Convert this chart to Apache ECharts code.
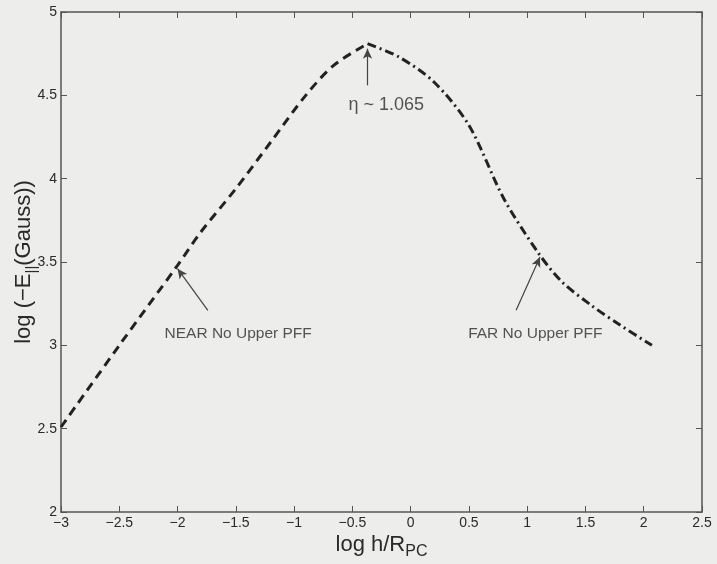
<!DOCTYPE html>
<html>
<head>
<meta charset="utf-8">
<script src="https://cdn.jsdelivr.net/npm/echarts@6/dist/echarts.min.js"></script>
<style>
html,body{margin:0;padding:0;background:#ededeb;}
#c{width:717px;height:564px;}
</style>
</head>
<body>
<div id="c"></div>
<script>
// Data
var nearX = [-3.0, -2.5, -2.0, -1.8, -1.5, -1.2, -0.9, -0.66, -0.37];
var nearY = [2.51, 3.00, 3.48, 3.68, 3.94, 4.22, 4.50, 4.68, 4.81];
var farX = [-0.37, -0.1, 0.2, 0.5, 0.8, 1.1, 1.3, 1.55, 1.8, 2.07];
var farY = [4.81, 4.73, 4.58, 4.32, 3.88, 3.55, 3.38, 3.24, 3.12, 3.0];
var xTicks = [-3, -2.5, -2, -1.5, -1, -0.5, 0, 0.5, 1, 1.5, 2, 2.5];
var yTicks = [2, 2.5, 3, 3.5, 4, 4.5, 5];
// annotations: [label, arrowTailX, arrowTailY, arrowTipX, arrowTipY, labelX, labelY, fontSize]
var notes = [
  ['\u03b7 ~ 1.065', -0.37, 4.56, -0.37, 4.78, -0.21, 4.44, 18],
  ['NEAR No Upper PFF', -1.74, 3.21, -2.0, 3.46, -1.48, 3.07, 15.5],
  ['FAR No Upper PFF', 0.905, 3.21, 1.11, 3.53, 1.07, 3.07, 15.5]
];

function pairs(xs, ys){ return xs.map(function(x,i){return [x, ys[i]];}); }
var fmt = function(v){ var s = String(v); return s.replace('-', '\u2212'); };
var axisCol = '#555';
var txtCol = '#2a2a2a';
var font = 'Liberation Sans, Arial, sans-serif';

var chart = echarts.init(document.getElementById('c'));
chart.setOption({
  backgroundColor: '#ededeb',
  animation: false,
  grid: {left: 61, right: 15, top: 12, bottom: 52, containLabel: false, outerBoundsMode: 'none'},
  xAxis: [{
    type: 'value', min: -3, max: 2.5, interval: 0.5,
    axisLine: {onZero: false, lineStyle: {color: axisCol, width: 1.5}},
    axisTick: {inside: true, length: 6, lineStyle: {color: axisCol}},
    axisLabel: {color: txtCol, fontSize: 14, fontFamily: font, margin: 4, formatter: fmt},
    splitLine: {show: false},
    name: '{a|log h/R}{s|PC}',
    nameLocation: 'middle', nameGap: 22, nameMoveOverlap: false,
    nameTextStyle: {
      rich: {
        a: {fontSize: 22, color: txtCol, fontFamily: font, verticalAlign: 'top', lineHeight: 24},
        s: {fontSize: 16, color: txtCol, fontFamily: font, verticalAlign: 'top', padding: [10, 0, 0, 0], lineHeight: 24}
      }
    }
  }, {
    type: 'value', min: -3, max: 2.5, interval: 0.5, position: 'top',
    axisLine: {show: true, onZero: false, lineStyle: {color: axisCol, width: 1.5}},
    axisTick: {inside: true, length: 6, lineStyle: {color: axisCol}},
    axisLabel: {show: false}, splitLine: {show: false}
  }],
  yAxis: [{
    type: 'value', min: 2, max: 5, interval: 0.5,
    axisLine: {show: true, onZero: false, lineStyle: {color: axisCol, width: 1.5}},
    axisTick: {inside: true, length: 6, lineStyle: {color: axisCol}},
    axisLabel: {color: txtCol, fontSize: 14, fontFamily: font, margin: 4},
    splitLine: {show: false},
    name: '{a|log (\u2212E}{s|||}{a|(Gauss))}',
    nameLocation: 'middle', nameGap: 24, nameRotate: 90, nameMoveOverlap: false,
    nameTextStyle: {
      rich: {
        a: {fontSize: 22, color: txtCol, fontFamily: font, verticalAlign: 'top', lineHeight: 24},
        s: {fontSize: 15, color: txtCol, fontFamily: font, verticalAlign: 'top', padding: [11, 0, 0, 0], lineHeight: 24}
      }
    }
  }, {
    type: 'value', min: 2, max: 5, interval: 0.5, position: 'right',
    axisLine: {show: true, onZero: false, lineStyle: {color: axisCol, width: 1.5}},
    axisTick: {inside: true, length: 6, lineStyle: {color: axisCol}},
    axisLabel: {show: false}, splitLine: {show: false}
  }],
  series: [{
    type: 'line', data: pairs(nearX, nearY), smooth: 0.3, symbol: 'none',
    lineStyle: {color: '#222', width: 3, type: [9, 6]},
    markLine: {
      silent: true, symbol: ['none', 'arrow'], symbolSize: [7, 10],
      lineStyle: {color: '#444', width: 1.2, type: 'solid'},
      label: {show: false},
      data: notes.map(function(n){ return [{coord: [n[1], n[2]]}, {coord: [n[3], n[4]]}]; })
    }
  }, {
    type: 'line', data: pairs(farX, farY), smooth: 0.3, symbol: 'none',
    lineStyle: {color: '#222', width: 3, type: [9, 4, 2, 4]}
  }, {
    type: 'scatter', symbolSize: 0,
    data: notes.map(function(n){ return {value: [n[5], n[6]], name: n[0],
      label: {fontSize: n[7]}}; }),
    label: {show: true, position: 'inside', formatter: function(p){return p.name;},
            color: txtCol, fontFamily: font}
  }]
});
</script>
</body>
</html>
